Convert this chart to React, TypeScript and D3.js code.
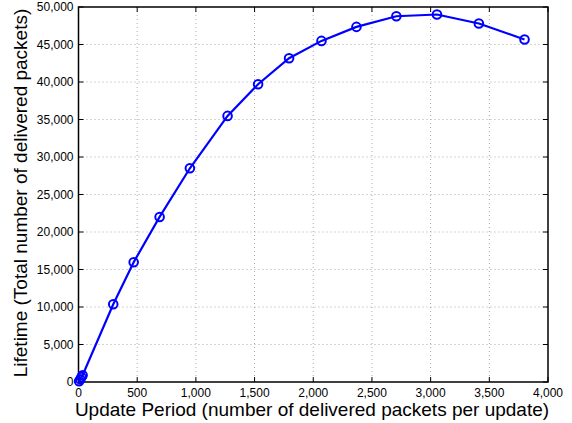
import React from "react";
import * as d3 from "d3";

const updatePeriod = [5, 15, 25, 35, 296, 470, 691, 949, 1270, 1530, 1794, 2070, 2368, 2708, 3054, 3411, 3800];
const lifetime = [100, 350, 650, 900, 10373, 15970, 22010, 28500, 35480, 39700, 43170, 45480, 47350, 48770, 49000, 47800, 45670];
const xTicks = [0, 500, 1000, 1500, 2000, 2500, 3000, 3500, 4000];
const yTicks = [0, 5000, 10000, 15000, 20000, 25000, 30000, 35000, 40000, 45000, 50000];
const xLabel = "Update Period (number of delivered packets per update)";
const yLabel = "Lifetime (Total number of delivered packets)";

export default function App() {
  const W = 572, H = 423;
  const left = 78.5, right = 548, top = 7, bottom = 382;
  const x = d3.scaleLinear().domain([0, 4000]).range([left, right]);
  const y = d3.scaleLinear().domain([0, 50000]).range([bottom, top]);
  const fmt = d3.format(",");
  const pts = updatePeriod.map((v, i) => [x(v), y(lifetime[i])] as [number, number]);
  const line = d3.line()(pts) || "";
  const font = "'Liberation Sans', Arial, sans-serif";
  return (
    <svg width={W} height={H} style={{ position: "absolute", left: 0, top: 0, background: "#fff" }}>
      <rect x={0} y={0} width={W} height={H} fill="#fff" />
      {xTicks.slice(1, -1).map((t) => (
        <line key={"gx" + t} x1={x(t)} x2={x(t)} y1={top} y2={bottom} stroke="#aaa" strokeWidth={1} strokeDasharray="1,3" />
      ))}
      {yTicks.slice(1, -1).map((t) => (
        <line key={"gy" + t} x1={left} x2={right} y1={y(t)} y2={y(t)} stroke="#aaa" strokeWidth={1} strokeDasharray="1,3" />
      ))}
      {xTicks.map((t) => (
        <g key={"tx" + t}>
          <line x1={x(t)} x2={x(t)} y1={bottom} y2={bottom - 5} stroke="#000" />
          <line x1={x(t)} x2={x(t)} y1={top} y2={top + 5} stroke="#000" />
          <text x={x(t)} y={396.5} textAnchor="middle" fontSize={12} fontFamily={font} fill="#000">{fmt(t)}</text>
        </g>
      ))}
      {yTicks.map((t) => (
        <g key={"ty" + t}>
          <line x1={left} x2={left + 5} y1={y(t)} y2={y(t)} stroke="#000" />
          <line x1={right} x2={right - 5} y1={y(t)} y2={y(t)} stroke="#000" />
          <text x={left - 5} y={y(t) + 4} textAnchor="end" fontSize={12} fontFamily={font} fill="#000">{fmt(t)}</text>
        </g>
      ))}
      <rect x={left} y={top} width={right - left} height={bottom - top} fill="none" stroke="#000" strokeWidth={1.5} />
      <path d={line} fill="none" stroke="#0000ff" strokeWidth={2.2} />
      {pts.map((p, i) => (
        <circle key={i} cx={p[0]} cy={p[1]} r={4.3} fill="none" stroke="#0000ff" strokeWidth={2} />
      ))}
      <text x={312} y={416} textAnchor="middle" fontSize={19} fontFamily={font} fill="#000">{xLabel}</text>
      <text transform={`translate(27,193) rotate(-90)`} textAnchor="middle" fontSize={19} fontFamily={font} fill="#000">{yLabel}</text>
    </svg>
  );
}
